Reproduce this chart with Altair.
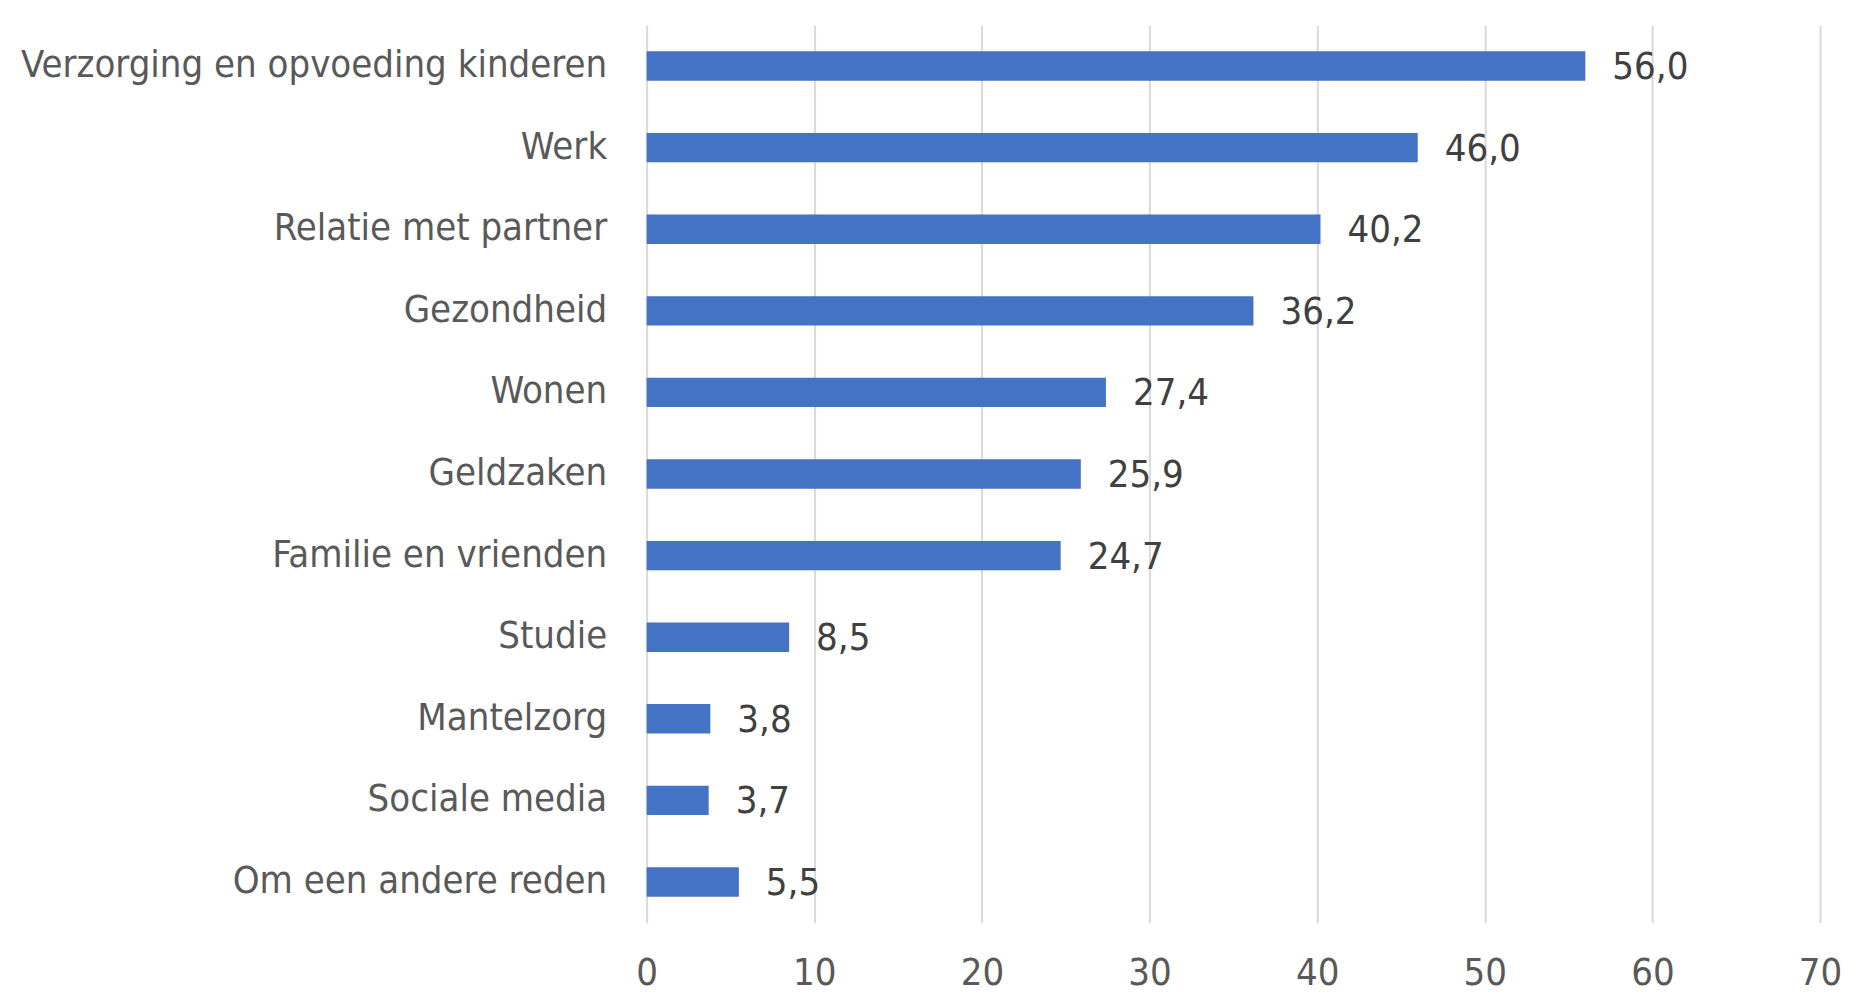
import altair as alt
import pandas as pd

categories = [
    "Verzorging en opvoeding kinderen",
    "Werk",
    "Relatie met partner",
    "Gezondheid",
    "Wonen",
    "Geldzaken",
    "Familie en vrienden",
    "Studie",
    "Mantelzorg",
    "Sociale media",
    "Om een andere reden",
]
values = [56.0, 46.0, 40.2, 36.2, 27.4, 25.9, 24.7, 8.5, 3.8, 3.7, 5.5]
x_ticks = [0, 10, 20, 30, 40, 50, 60, 70]

df = pd.DataFrame({"cat": categories, "v": values})

FONT = "DejaVu Sans Condensed, Roboto Condensed, Roboto"
FS = 38

y_enc = alt.Y(
    "cat:N",
    sort=categories,
    title=None,
    scale=alt.Scale(paddingInner=0.64, paddingOuter=0.32),
    axis=alt.Axis(
        domain=False, ticks=False, grid=False,
        labelFont=FONT, labelFontSize=FS, labelColor="#595959",
        labelPadding=40, labelLimit=1000,
        minExtent=639, maxExtent=639,
    ),
)
x_enc = alt.X(
    "v:Q",
    title=None,
    scale=alt.Scale(domain=[0, 70], nice=False),
    axis=alt.Axis(
        values=x_ticks, domain=False, ticks=False,
        grid=True, gridColor="#D9D9D9", gridWidth=2,
        labelFont=FONT, labelFontSize=FS, labelColor="#595959",
        labelPadding=32, labelFlush=False,
    ),
)

bars = alt.Chart(df).mark_bar(color="#4472C4").encode(x=x_enc, y=y_enc)

labels = alt.Chart(df).transform_calculate(
    lab="replace(format(datum.v, '.1f'), '.', ',')"
).mark_text(
    align="left", baseline="middle", dx=27, dy=2,
    font=FONT, fontSize=FS, color="#404040",
).encode(x="v:Q", y=alt.Y("cat:N", sort=categories), text="lab:N")

chart = alt.layer(bars, labels).properties(
    width=1174, height=898,
    background="white",
    padding={"top": 17, "left": 0, "right": 0, "bottom": 0},
).configure_view(stroke=None)

chart.save("out.html", embed_options={"renderer": "svg", "actions": False})
